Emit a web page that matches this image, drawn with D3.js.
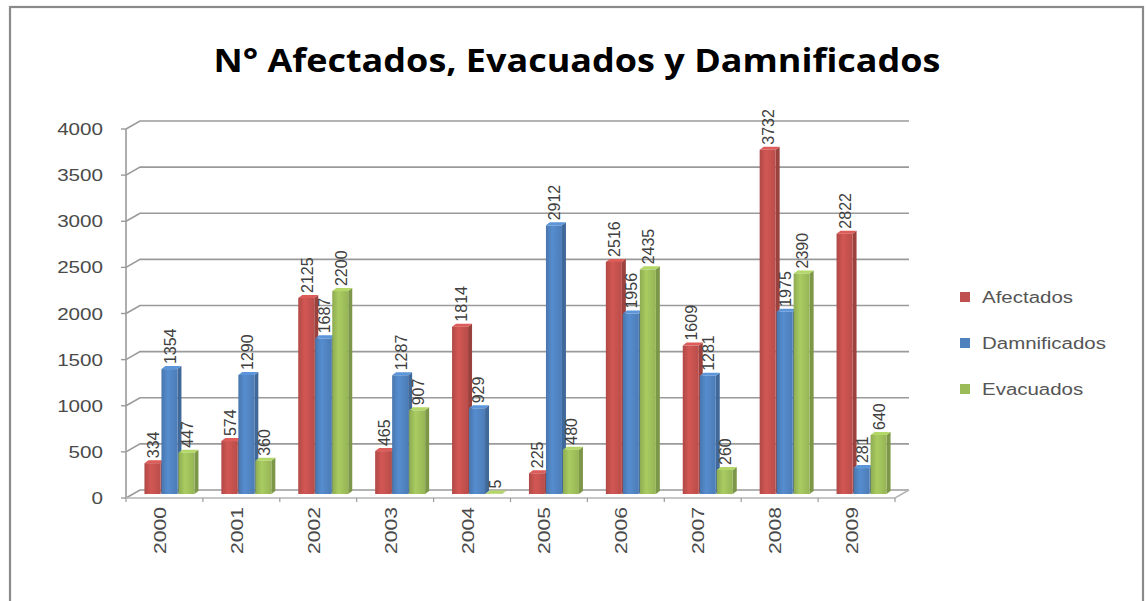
<!DOCTYPE html>
<html><head><meta charset="utf-8">
<script src="https://cdn.jsdelivr.net/npm/d3@7"></script>
<style>html,body{margin:0;padding:0;background:#fff;}svg{display:block;}</style>
</head><body>
<svg id="chart" width="1147" height="601"></svg>
<script>
const categories = ["2000","2001","2002","2003","2004","2005","2006","2007","2008","2009"];
const seriesNames = ["Afectados","Damnificados","Evacuados"];
const afectados    = [334, 574, 2125, 465, 1814, 225, 2516, 1609, 3732, 2822];
const damnificados = [1354, 1290, 1687, 1287, 929, 2912, 1956, 1281, 1975, 281];
const evacuados    = [447, 360, 2200, 907, 5, 480, 2435, 260, 2390, 640];
const yTicks = [0, 500, 1000, 1500, 2000, 2500, 3000, 3500, 4000];
const titleText = "N° Afectados, Evacuados y Damnificados";
const colors = ["#C0504D", "#4F81BD", "#9BBB59"];

const series = [afectados, damnificados, evacuados];
const svg = d3.select("#chart");
const defs = svg.append("defs");

// outer border
svg.append("rect").attr("x",10).attr("y",7).attr("width",1133).attr("height",600)
  .attr("fill","#fff").attr("stroke","#8a8a8a").attr("stroke-width",2.2);

// title
svg.append("text").attr("x",577).attr("y",72).attr("text-anchor","middle")
  .attr("font-family","Open Sans, sans-serif").attr("font-weight","bold").attr("font-size",32)
  .attr("textLength",727).attr("lengthAdjust","spacingAndGlyphs").attr("fill","#000")
  .text(titleText);

// scales (front plane)
const y = d3.scaleLinear().domain([0,4000]).range([498,129]);
const x = d3.scaleBand().domain(categories).range([126,895]);
const depthX = 14, depthY = 8;      // back wall offset
const midX = 7, midY = 4;           // bars sit at mid depth

const grid = svg.append("g");
yTicks.forEach(t => {
  const yy = y(t);
  grid.append("path")
    .attr("d", `M126,${yy} L${126+depthX},${yy-depthY} L${895+depthX},${yy-depthY}`)
    .attr("fill","none").attr("stroke","#9a9a9a").attr("stroke-width",1.6);
  grid.append("line").attr("x1",121).attr("x2",126).attr("y1",yy).attr("y2",yy)
    .attr("stroke","#9a9a9a").attr("stroke-width",1.4);
});
// left wall front edge
grid.append("line").attr("x1",126).attr("x2",126).attr("y1",y(4000)).attr("y2",y(0))
  .attr("stroke","#9a9a9a").attr("stroke-width",1.6);
// floor front edge and right edge
grid.append("path").attr("d",`M126,${y(0)} L895,${y(0)} L${895+depthX},${y(0)-depthY}`)
  .attr("fill","none").attr("stroke","#b5b5b5").attr("stroke-width",1.6);
categories.forEach((c,i) => {
  const xx = x(c);
  grid.append("line").attr("x1",xx).attr("x2",xx).attr("y1",y(0)).attr("y2",y(0)+4)
    .attr("stroke","#9a9a9a").attr("stroke-width",1.2);
});
grid.append("line").attr("x1",895).attr("x2",895).attr("y1",y(0)).attr("y2",y(0)+4)
  .attr("stroke","#9a9a9a").attr("stroke-width",1.2);

// y tick labels
const yLab = svg.append("g");
yTicks.forEach(t => {
  yLab.append("text")
    .attr("transform",`translate(103,${y(t)+6}) scale(1.25,1)`)
    .attr("text-anchor","end").attr("font-family","Liberation Sans, Arial, sans-serif")
    .attr("font-size",16.5).attr("fill","#4a4a4a").text(t);
});

// category labels
categories.forEach(c => {
  const cx = x(c) + x.bandwidth()/2 - 4;
  svg.append("text")
    .attr("transform",`translate(${cx},507) rotate(-90)`)
    .attr("text-anchor","end").attr("dominant-baseline","central")
    .attr("font-family","Liberation Sans, Arial, sans-serif").attr("font-size",17)
    .attr("textLength",47).attr("lengthAdjust","spacingAndGlyphs")
    .attr("fill","#4a4a4a").text(c);
});

// gradients
function shade(c,k){ return d3.color(c).brighter(k).formatHex(); }
colors.forEach((c,i) => {
  const g = defs.append("linearGradient").attr("id","g"+i).attr("x1","0").attr("x2","1").attr("y1","0").attr("y2","0");
  g.append("stop").attr("offset","0%").attr("stop-color",shade(c,-0.25));
  g.append("stop").attr("offset","40%").attr("stop-color",shade(c,0.25));
  g.append("stop").attr("offset","100%").attr("stop-color",shade(c,-0.1));
});

// bars
const barW = 16, step = 17, sdx = 4, sdy = 3;
const base = y(0) - midY;
const bars = svg.append("g");
const labels = svg.append("g");
categories.forEach((c,i) => {
  const x0 = x(c) + x.bandwidth()/2 - 20;
  series.forEach((s,k) => {
    const v = s[i];
    const bx = x0 + k*step;
    const top = y(v) - midY;
    // side face
    bars.append("path")
      .attr("d",`M${bx+barW},${top} L${bx+barW+sdx},${top-sdy} L${bx+barW+sdx},${base-sdy} L${bx+barW},${base} Z`)
      .attr("fill",shade(colors[k],-0.6));
    // top face
    bars.append("path")
      .attr("d",`M${bx},${top} L${bx+sdx},${top-sdy} L${bx+barW+sdx},${top-sdy} L${bx+barW},${top} Z`)
      .attr("fill",shade(colors[k],0.4));
    // front face
    bars.append("rect").attr("x",bx).attr("y",top).attr("width",barW).attr("height",Math.max(0,base-top))
      .attr("fill",`url(#g${k})`);
    // value label
    labels.append("text")
      .attr("transform",`translate(${bx+barW/2+1},${top-5}) rotate(-90)`)
      .attr("text-anchor","start").attr("dominant-baseline","central")
      .attr("font-family","Liberation Sans, Arial, sans-serif").attr("font-size",16)
      .attr("fill","#404040").text(v);
  });
});

// legend
const lg = svg.append("g");
seriesNames.forEach((n,k) => {
  const ly = 297 + k*46;
  lg.append("rect").attr("x",960).attr("y",ly-5).attr("width",10).attr("height",10).attr("fill",colors[k]);
  lg.append("text").attr("transform",`translate(982,${ly+6}) scale(1.28,1)`)
    .attr("font-family","Liberation Sans, Arial, sans-serif").attr("font-size",16)
    .attr("fill","#555").text(n);
});
</script>
</body></html>
